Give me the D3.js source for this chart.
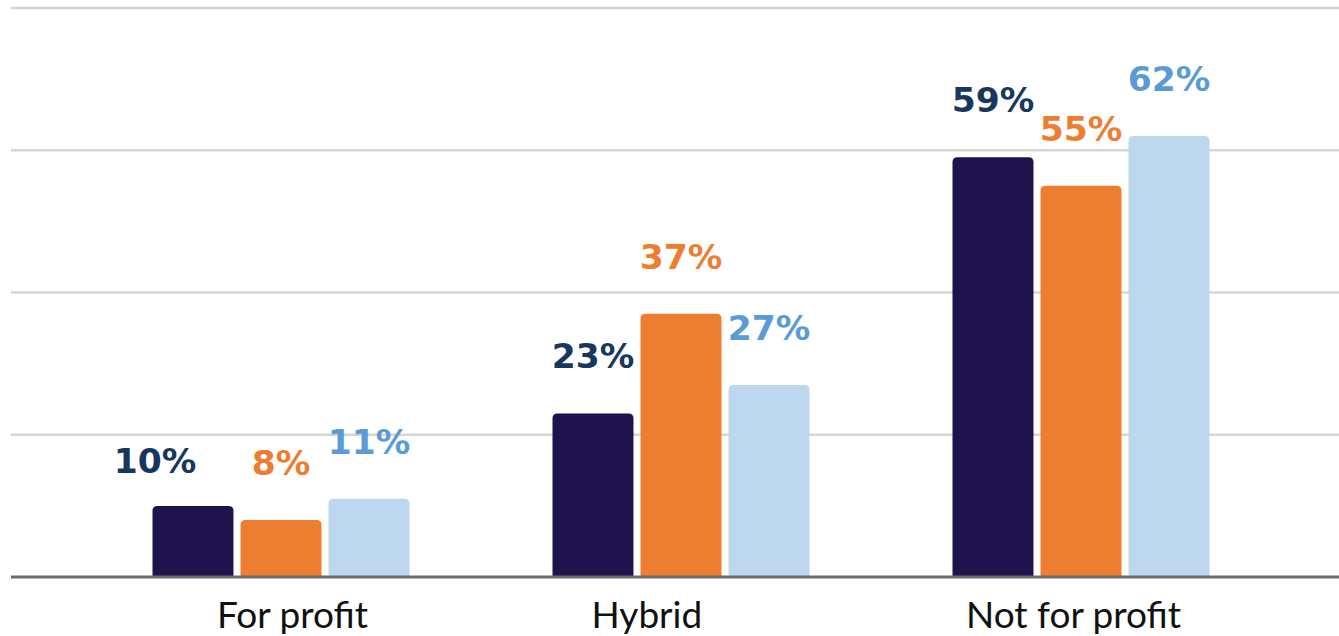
<!DOCTYPE html>
<html><head><meta charset="utf-8">
<script src="https://cdn.jsdelivr.net/npm/d3@7"></script>
<style>html,body{margin:0;padding:0;background:#fff;}svg{display:block;}</style>
</head><body>
<svg id="c" width="1339" height="636"></svg>
<script>
const categories = ["For profit", "Hybrid", "Not for profit"];
const seriesNames = ["Series A", "Series B", "Series C"];
const seriesA = [10, 23, 59];
const seriesB = [8, 37, 55];
const seriesC = [11, 27, 62];
const yTicks = [20, 40, 60, 80];

const barColors = ["#20124d", "#ED7D31", "#BDD7EE"];
const labelColors = ["#17375e", "#ED7D31", "#5B9BD5"];
const values = [seriesA, seriesB, seriesC];

const svg = d3.select("#c");
const W = 1339, H = 636;
const y = d3.scaleLinear().domain([0, 80]).range([577, 8]);
const x0 = d3.scaleBand().domain(categories).range([81, 1281]).paddingInner(0.3575).paddingOuter(0.17875);
const x1 = d3.scaleBand().domain(seriesNames).range([0, x0.bandwidth()]).paddingInner(0.08).paddingOuter(0);
const xLabel = d3.scalePoint().domain(categories).range([217, 966]);

// gridlines
svg.append("g").selectAll("line").data(yTicks).join("line")
  .attr("x1", 11).attr("x2", W).attr("y1", d => y(d)).attr("y2", d => y(d))
  .attr("stroke", "#d6d6d6").attr("stroke-width", 2.5);

const rows = [];
categories.forEach((c, i) => seriesNames.forEach((s, j) => rows.push({c, s, j, v: values[j][i]})));

function topRounded(x, yTop, w, yBase, r) {
  return `M${x},${yBase}V${yTop + r}Q${x},${yTop} ${x + r},${yTop}H${x + w - r}Q${x + w},${yTop} ${x + w},${yTop + r}V${yBase}Z`;
}

svg.append("g").selectAll("path").data(rows).join("path")
  .attr("d", d => topRounded(x0(d.c) + x1(d.s), y(d.v), x1.bandwidth(), y(0), 5))
  .attr("fill", d => barColors[d.j]);

// axis baseline
svg.append("line").attr("x1", 11).attr("x2", W).attr("y1", y(0)).attr("y2", y(0))
  .attr("stroke", "#6b6b6b").attr("stroke-width", 3);

// value labels
const nudge = {"For profit|0": {dx: -38, dy: 12}};
svg.append("g").selectAll("text").data(rows).join("text")
  .attr("x", d => x0(d.c) + x1(d.s) + x1.bandwidth() / 2 + ((nudge[d.c + "|" + d.j] || {}).dx || 0))
  .attr("y", d => y(d.v) - 45 + ((nudge[d.c + "|" + d.j] || {}).dy || 0))
  .attr("text-anchor", "middle")
  .attr("font-family", "'DejaVu Sans', sans-serif")
  .attr("font-weight", "bold")
  .attr("font-size", 34.5)
  .attr("fill", d => labelColors[d.j])
  .text(d => d.v + "%");

// category labels
svg.append("g").selectAll("text").data(categories).join("text")
  .attr("x", d => xLabel(d))
  .attr("y", 628)
  .attr("text-anchor", "start")
  .attr("font-family", "Lato, 'Open Sans', sans-serif")
  .attr("font-size", 37)
  .attr("fill", "#111")
  .text(d => d);
</script>
</body></html>
